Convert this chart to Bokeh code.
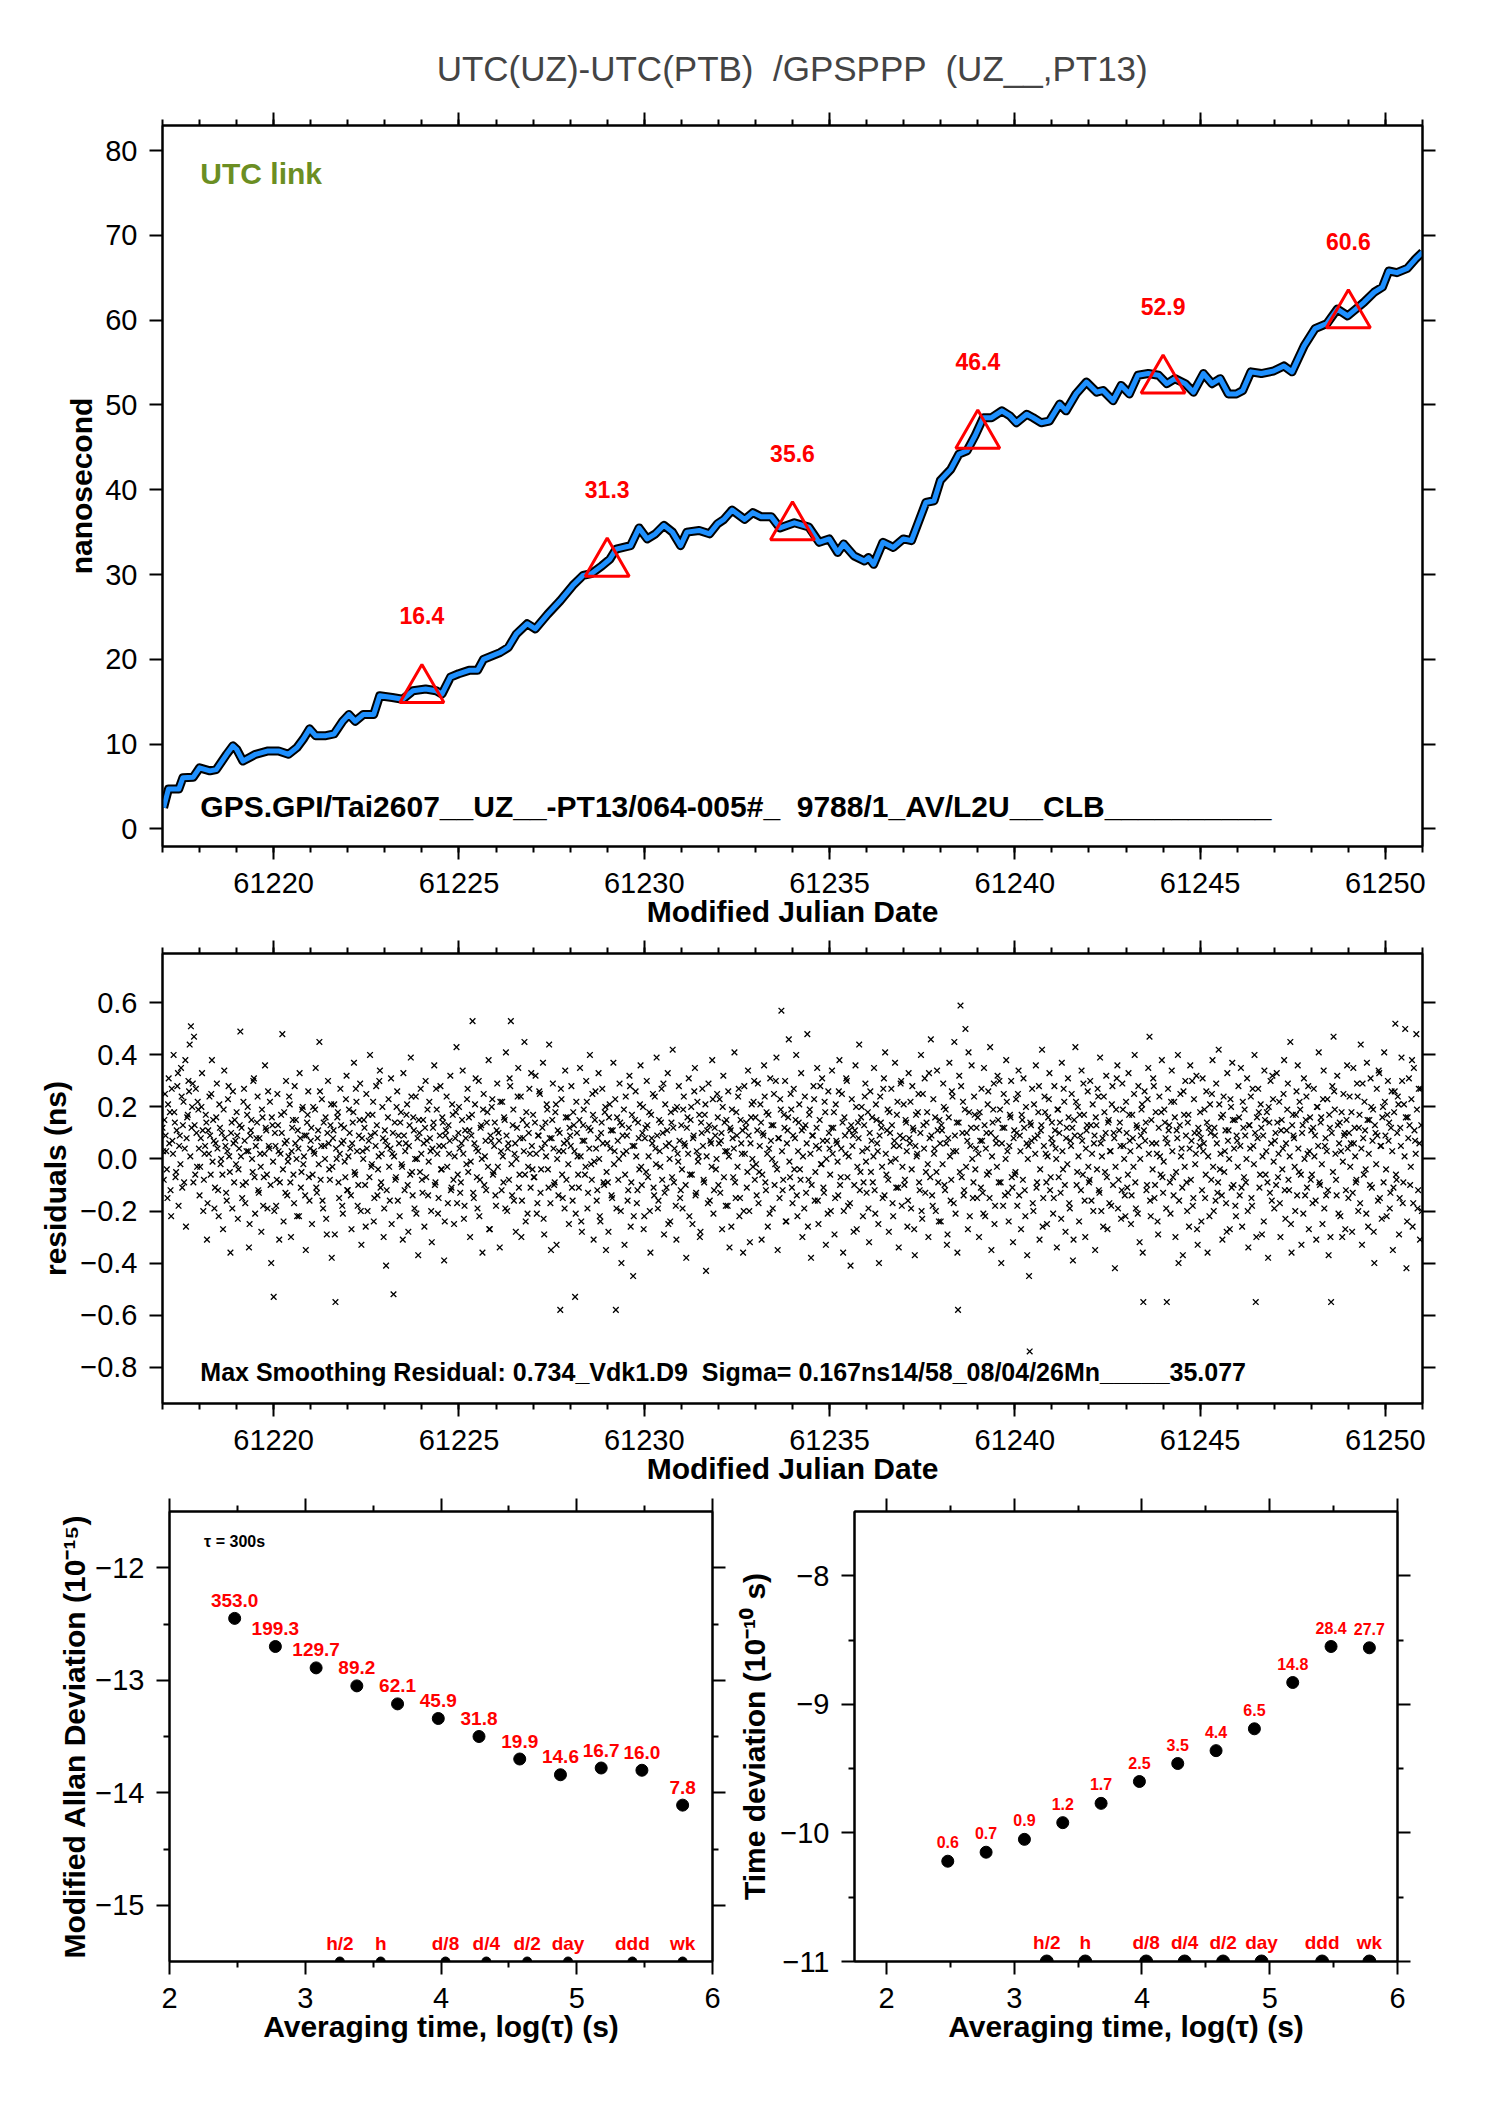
import numpy as np
from bokeh.plotting import figure
from bokeh.models import Range1d, FixedTicker, LinearAxis, Label, CustomJSTickFormatter
from bokeh.layouts import column, row
from bokeh.embed import file_html
from bokeh.resources import INLINE
from bokeh.core.properties import value

FONT = "Liberation Sans"
NB = "\u00a0"

# ---------------- data: top panel (smoothed UTC(UZ)-UTC(PTB), ns) ----------------
smooth_mjd = [61217.03, 61217.16, 61217.44, 61217.55, 61217.83, 61218.00, 61218.28, 61218.45,
              61218.73, 61218.90, 61219.00, 61219.17, 61219.51, 61219.85, 61220.13, 61220.40,
              61220.63, 61220.80, 61220.97, 61221.13, 61221.41, 61221.63, 61221.86, 61222.03,
              61222.20, 61222.42, 61222.70, 61222.86, 61223.20, 61223.48, 61223.76, 61224.10,
              61224.38, 61224.54, 61224.77, 61224.99, 61225.27, 61225.50, 61225.66, 61226.11,
              61226.33, 61226.55, 61226.84, 61227.06, 61227.39, 61227.73, 61228.07, 61228.35,
              61228.57, 61228.85, 61229.07, 61229.24, 61229.63, 61229.86, 61230.08, 61230.30,
              61230.53, 61230.76, 61230.98, 61231.15, 61231.48, 61231.76, 61231.98, 61232.15,
              61232.37, 61232.71, 61232.93, 61233.16, 61233.43, 61233.66, 61234.05, 61234.44,
              61234.72, 61234.99, 61235.22, 61235.38, 61235.66, 61235.94, 61236.05, 61236.19,
              61236.44, 61236.72, 61236.99, 61237.21, 61237.60, 61237.82, 61237.99, 61238.27,
              61238.49, 61238.71, 61238.93, 61239.15, 61239.37, 61239.65, 61239.87, 61240.04,
              61240.32, 61240.49, 61240.71, 61240.93, 61241.21, 61241.38, 61241.65, 61241.93,
              61242.21, 61242.38, 61242.65, 61242.87, 61243.09, 61243.32, 61243.60, 61243.88,
              61244.10, 61244.32, 61244.60, 61244.82, 61245.09, 61245.32, 61245.54, 61245.76,
              61245.98, 61246.15, 61246.37, 61246.65, 61246.98, 61247.26, 61247.48, 61247.81,
              61248.10, 61248.42, 61248.70, 61248.98, 61249.20, 61249.42, 61249.70, 61249.92,
              61250.09, 61250.31, 61250.59, 61250.81, 61251.00]
smooth_ns = [2.5, 4.7, 4.7, 6.05, 6.1, 7.2, 6.85, 7.0,
             8.8, 9.8, 9.4, 8.0, 8.8, 9.2, 9.2, 8.8,
             9.6, 10.6, 11.8, 11.0, 11.0, 11.2, 12.7, 13.5,
             12.7, 13.5, 13.5, 15.7, 15.5, 15.3, 16.3, 16.5,
             16.3, 15.9, 17.9, 18.3, 18.7, 18.7, 20.0, 20.8,
             21.4, 23.0, 24.2, 23.6, 25.3, 26.9, 28.7, 29.9,
             30.1, 31.0, 31.8, 33.0, 33.4, 35.5, 34.2, 34.8,
             35.8, 35.0, 33.4, 35.0, 35.2, 34.8, 36.0, 36.5,
             37.6, 36.5, 37.3, 36.8, 36.8, 35.5, 36.1, 35.6,
             33.8, 34.2, 32.6, 33.6, 32.2, 31.6, 32.0, 31.2,
             33.8, 33.2, 34.2, 34.0, 38.5, 38.7, 41.1, 42.4,
             44.2, 44.6, 46.4, 48.5, 48.5, 49.3, 48.7, 47.9,
             48.9, 48.5, 47.9, 48.1, 50.1, 49.3, 51.3, 52.7,
             51.5, 51.7, 50.5, 52.3, 51.3, 53.5, 53.7, 53.5,
             52.5, 53.1, 52.5, 51.5, 53.7, 52.5, 53.1, 51.3,
             51.3, 51.7, 53.9, 53.7, 54.0, 54.6, 53.9, 57.0,
             59.0, 59.6, 61.3, 60.5, 61.3, 62.1, 63.3, 63.9,
             65.8, 65.6, 66.1, 67.2, 68.0]
tri_mjd = [61224, 61229, 61234, 61239, 61244, 61249]
tri_ns = [16.4, 31.3, 35.6, 46.4, 52.9, 60.6]
tri_lbl = ["16.4", "31.3", "35.6", "46.4", "52.9", "60.6"]

# ---------------- data: residuals (hundredths of ns), 60 samples per day from MJD 61217 ----------------
resid_start = 61217.0
resid_per_day = 30
resid_a_cns = [
    12, -8, 25, 3, -15, 31, 18, -22, 7, 40, 14, -5, 28, -18, 9, 35, -11, 22, 4, -26, 16, 30, 44, 51, 20, -9, 13, 27, -3, 19,
    -14, 8, 33, -20, 2, 17, -31, 11, 24, -6, 38, 15, -19, 6, 29, -12, 21, -2, 10, -27, 34, 5, -16, 23, 1, -36, 14, 26, -9, 7,
    18, -23, 4, 49, 12, -10, 27, -17, 3, 20, -34, 9, 15, -5, 31, -21, 8, 24, -13, 2, -28, 16, -7, 36, 11, -19, 5, 22, -40, 13,
    -53, 10, -18, 25, 3, -9, 17, 48, -24, 6, 30, -14, 1, 21, -30, 12, -6, 28, 15, -22, 4, 33, -11, 19, -2, 9, -35, 14, 26, -16,
    7, -25, 20, 2, 35, -13, 11, 45, -8, 23, -19, 5, 16, -29, 30, -4, 13, -38, 8, 21, -55, 0, 18, -15, 27, 6, -21, 12, -7, 32,
    -12, 19, 4, -27, 14, 37, -6, 22, -18, 9, 29, -33, 3, 15, -10, 25, -20, 7, 40, -3, 17, -24, 10, 28, -14, 1, 34, -9, 20, -30,
    11, -41, 5, 23, -16, 31, 2, -52, 14, -7, 26, 9, -22, 18, -3, 33, -12, 6, 21, -28, 13, 39, -5, 16, -19, 24, 0, -37, 10, 27,
    -8, 15, -26, 30, 7, -14, 22, 3, -32, 12, 36, -9, 19, -21, 5, 28, -4, 14, -39, 9, 24, -17, 2, 32, -11, 17, -25, 8, 43, -6,
    20, -13, 6, 34, -23, 11, -2, 27, 16, -30, 9, 53, -15, 21, 4, -19, 30, -8, 13, -36, 25, 1, -12, 18, 38, -27, 7, 23, -5, 14,
    -18, 29, 10, -34, 3, 22, -9, 15, 41, -20, 6, 31, 53, -14, 19, 2, -28, 12, 35, -6, 24, -16, 8, 45, -24, 13, -3, 27, -11, 5,
    17, -7, 32, -21, 9, 26, -13, 4, 37, -29, 14, 21, -4, 44, -17, 8, 29, -10, 18, -33, 11, 3, -58, 23, -15, 6, 34, -8, 16, -25,
    9, 28, -16, 13, -53, 22, 1, -11, 35, -24, 7, 19, -6, 30, -19, 12, 40, -2, 25, -31, 15, 4, -12, 33, -22, 10, 27, -9, 18, -35,
    6, -28, 21, 11, -15, 37, 3, -58, 16, -8, 29, -20, 13, 2, -33, 24, 9, -12, 32, -26, 17, -45, 5, 26, -17, 14, -4, 36, -10, 20,
    -22, 12, 30, -7, 18, -36, 8, 25, -14, 4, 39, -19, 15, -3, 27, 10, -29, 21, -11, 33, 6, -24, 14, 42, -9, 19, -31, 2, 28, -15,
    13, -19, 24, 5, -38, 16, 31, -6, 20, -25, 9, 35, -13, 22, 1, -30, 14, 27, -8, 17, -43, 11, 29, -16, 6, 38, -21, 12, -4, 25,
    -10, 23, 7, -27, 32, 14, -18, 3, 26, -34, 11, 19, -7, 41, -15, 9, 24, -22, 15, 2, -36, 28, 12, -11, 34, -20, 6, 21, -3, 30,
    16, -14, 29, -5, 21, -31, 10, 36, -9, 18, -26, 4, 31, 13, -19, 25, -2, 39, -35, 8, 23, 57, -12, 17, 30, -24, 11, 46, -7, 19,
    -17, 27, 8, 40, -22, 14, -4, 33, -30, 12, 24, -13, 48, -8, 19, -38, 9, 28, -16, 5, 35, -25, 15, -2, 31, -11, 22, -33, 7, 26,
    4, -20, 34, 12, -29, 21, 6, -14, 38, -7, 25, -36, 16, 2, 30, -18, 11, -41, 23, 9, -10, 36, -27, 14, 44, -5, 20, -22, 13, 29,
    -13, 18, -32, 26, 7, -9, 35, -21, 15, 3, -40, 24, 12, -15, 31, 41, -6, 19, -28, 10, 27, -17, 5, 37, -11, 22, -34, 9, 30, -3,
    21, -8, 14, -26, 33, 6, -19, 28, 11, -37, 17, 2, 25, -12, 40, -23, 13, 31, -5, 18, -30, 8, 46, -14, 23, 4, -20, 34, -9, 15,
    -24, 11, 29, -10, 19, -33, 8, 37, -16, 26, 3, 45, -21, 14, -58, 32, 59, -7, 22, -12, 50, 10, -27, 18, 5, 36, -15, 24, -4, 12,
    16, -30, 7, 27, -13, 35, -22, 10, 21, -5, 43, -35, 14, 29, -18, 6, 32, -9, 19, -40, 12, 25, -14, 38, 3, -24, 17, 30, -11, 8,
    -6, 23, -18, 34, 9, -27, 15, 31, -12, 20, -37, 5, -74, 13, 27, -20, 8, 36, -9, 18, -31, 11, 42, -15, 24, 2, -25, 16, 33, -7,
    14, -21, 28, 4, -34, 19, 10, -13, 37, -4, 22, -28, 12, 31, -17, 7, 25, -39, 15, 43, -10, 20, -24, 9, 34, -6, 17, -30, 11, 26,
    -9, 30, -16, 21, 6, -35, 13, 27, -12, 39, -20, 8, 24, -5, 32, -27, 15, 3, -18, 28, 10, -42, 19, 36, -8, 14, -23, 29, 5, -14,
    22, -11, 33, 7, -25, 17, -3, 40, -19, 12, 28, -32, 9, 21, -55, 26, 14, -10, 35, 47, -22, 6, 31, -15, 18, 2, -29, 24, -6, 38,
    -13, 19, 8, -55, 27, 13, -21, 34, -7, 22, -30, 11, 40, -16, 25, 4, -37, 17, 30, -9, 14, -26, 36, 7, -18, 23, -2, 32, -33, 10,
    18, -24, 31, 6, -15, 26, -36, 12, 21, -8, 38, -20, 9, 29, -13, 42, -4, 16, -31, 24, 3, -17, 33, 11, -27, 20, 37, -10, 15, -22,
    7, 28, -14, 35, -26, 12, 19, -9, 31, -34, 13, 24, -18, 5, 40, -55, 16, 27, -11, 21, -29, 9, 34, -6, 18, -38, 14, 30, -16, 23,
    -19, 10, 33, -7, 22, -30, 15, 4, 38, -23, 11, 29, -12, 45, -36, 17, 8, -20, 26, 36, -5, 19, -33, 13, 31, -14, 24, 2, -27, 16,
    11, -17, 27, 9, -31, 20, 41, -10, 16, -25, 34, 5, -14, 23, -37, 12, -55, 28, 47, 19, -8, 32, -21, 14, 3, -30, 25, 10, -12, 36,
    -15, 24, 6, -28, 35, 12, -9, 29, -20, 17, 44, -33, 8, 22, -4, 37, -26, 15, 31, -11, 19, -40, 10, 27, -16, 33, 5, -23, 20, 41,
    9, -22, 30, 14, -13, 26, -35, 18, 52, -8, 24, -29, 12, 39, -17, 21, 50, -42, 16, 31, -10, 23, -26, 35, 7, 48, -19, 27, -31, 13,
]
resid_b_cns = [
    3, 15, 9, -4, 21, 6, -12, 27, 2, 18, -7, 11, 33, 5, -2, 24, 13, -9, 38, 8, 17, 26, 1, 12, 29, 47, -6, 10, 22, 4,
    -3, 20, 11, -8, 5, 14, -17, 2, 9, 25, -1, 7, -11, 16, 4, -22, 12, 0, -6, 19, 8, -13, 3, 28, -5, 10, -19, 6, 15, -2,
    9, -4, 13, 1, -15, 22, 7, -9, 17, 3, -25, 11, 0, 30, -7, 5, 14, -12, 8, -3, 19, -18, 2, 12, -6, 26, 4, -10, 16, -1,
    -20, 5, -8, 13, -31, 2, 10, -4, 18, -13, 7, -1, 24, -9, 3, 15, -17, 6, 0, 11, -22, 8, -5, 20, 1, -14, 9, 17, -7, 4,
    12, -6, 3, 19, -11, 8, -2, 26, 5, -16, 14, 0, -23, 10, 6, -8, 21, -3, 11, -29, 4, 16, -9, 2, 13, -18, 7, -1, 23, -12,
    1, 10, -14, 6, 18, -5, 27, 3, -10, 15, -20, 8, 0, 12, -26, 4, 17, -7, 9, -2, 22, -15, 5, 13, -4, 30, -11, 2, 8, -19,
    7, -12, 16, -3, 4, -25, 10, 1, -8, 20, -16, 6, 14, -2, -31, 9, 3, 17, -10, 5, -6, 24, -14, 11, 0, -21, 8, 15, -5, 2,
    -13, 6, 12, -7, 19, -1, 8, -20, 4, 14, -10, 27, 2, -15, 9, -4, 16, 5, -24, 11, -3, 13, 7, -12, 21, -8, 1, 18, -17, 10,
    4, -9, 15, 2, -18, 8, 23, -5, 11, -1, 17, -13, 6, 31, -7, 3, -22, 12, 0, 19, -10, 7, 14, -3, -27, 9, 20, -6, 5, -14,
    11, -3, 7, 22, -12, 1, 16, -19, 9, 4, -8, 28, -2, 13, -16, 6, 0, 24, -11, 8, -30, 15, 3, -6, 18, -21, 10, 2, 33, -4,
    -7, 14, 2, -17, 9, 25, -4, 12, -23, 6, 1, 19, -11, 8, -35, 15, 4, -9, 21, 0, -14, 10, 27, -6, 3, -19, 16, 7, -2, 12,
    5, -11, 18, 3, -21, 10, -6, 15, 1, -28, 13, 7, -3, 22, -13, 4, 11, -8, 17, -1, 26, -16, 8, 0, -24, 14, 6, -10, 20, -5,
    -9, 16, 4, -14, 11, -2, 23, -19, 7, 0, 14, -40, 9, 19, -6, 3, -16, 12, 28, -9, 5, -22, 15, 1, -12, 8, 21, -3, 10, -27,
    8, -5, 13, 1, -20, 17, 6, -11, 24, -2, 9, -16, 3, 14, -8, 29, -13, 5, 11, -25, 0, 18, -7, 12, 4, -18, 20, -1, 7, -12,
    -4, 19, 6, -10, 12, 2, -22, 15, -6, 8, 26, -14, 3, -1, 17, -28, 10, 5, -9, 21, 1, -17, 13, 7, -3, 23, -12, 9, 0, 16,
    6, -13, 10, 20, -7, 3, 15, -18, 1, 12, -26, 8, 4, -9, 18, -3, 27, -15, 6, 11, -20, 2, 14, -5, 9, -32, 16, 0, 22, -8,
    -2, 11, -17, 5, 14, -6, 9, 24, -12, 2, 17, -21, 7, 0, 13, -10, 30, -4, 8, -15, 19, 3, -8, 12, -24, 6, 16, -1, 25, -11,
    9, -4, 15, -14, 3, 21, -8, 11, 1, -19, 13, 6, -26, 17, 2, -10, 9, 23, -5, 12, -16, 4, 28, -2, 7, -13, 18, 0, -21, 10,
    -6, 12, 2, 18, -15, 7, -1, 26, -10, 4, 14, -20, 9, 31, -7, 1, -17, 13, 5, -28, 11, 20, -3, 8, -12, 16, 3, -9, 24, -1,
    4, -19, 10, -5, 16, 1, -12, 21, 6, -25, 9, 14, -3, 27, -14, 2, 11, -8, 18, -1, 13, -22, 7, 0, 17, -11, 5, 29, -18, 8,
    -10, 15, 3, -16, 8, 22, -4, 12, -27, 5, 1, 18, -9, 10, -20, 25, 4, -13, 14, -2, 33, -7, 9, -18, 2, 16, -5, 11, -24, 6,
    13, -2, 20, -12, 6, -29, 16, 1, -8, 24, -17, 9, 3, -36, 14, -5, 28, 10, -14, 19, -3, 7, 41, -22, 12, 0, -9, 17, 4, -15,
    2, 18, -11, 7, -21, 13, 4, -6, 26, -15, 10, 1, 19, -25, 8, -3, 15, 30, -9, 6, -18, 12, 0, 22, -13, 5, 16, -7, -32, 11,
    -5, 10, 25, -14, 3, 17, -8, 12, -22, 6, 0, -45, 14, 7, -17, 21, 2, -11, 9, 28, -4, 13, -26, 5, 18, -9, 1, 23, -12, 8,
    6, -15, 11, 0, 19, -7, 14, -23, 3, 27, -10, 8, -2, 16, -19, 5, 12, -31, 9, 22, -5, 1, 17, -12, 7, 29, -16, 4, 13, -3,
    -8, 13, 2, -20, 9, 16, -4, 24, -13, 6, 1, -26, 18, 10, -7, 14, -17, 3, 21, -10, 8, -3, 31, -19, 11, 5, -12, 19, 0, -22,
    10, -6, 17, 3, -14, 8, 25, -9, 13, -21, 5, 0, 19, -36, 11, 7, -12, 23, 2, -16, 15, -4, 28, -10, 6, -24, 12, 1, 18, -7,
    -1, 14, -19, 6, 11, -9, 22, 3, -14, 16, -5, 8, -40, 13, 1, -11, 26, -3, 9, -20, 17, 4, -8, 30, -15, 10, 2, -27, 12, 5,
    8, -12, 3, 19, -6, 14, 1, -22, 10, 25, -3, 12, -16, 6, -9, 21, 2, -14, 17, -5, 11, -28, 7, 0, 23, -11, 15, 4, -18, 9,
    -3, 16, 5, -11, 22, -7, 9, 0, -20, 13, 4, -15, 27, -2, 10, -30, 8, 18, -6, 12, 1, -24, 15, 3, -9, 20, -13, 6, 32, -1,
    7, -10, 14, 2, -17, 11, -4, 25, -12, 6, 19, -8, 1, -25, 13, 9, -3, 17, -14, 4, 22, -6, 10, -21, 0, 15, -11, 28, 3, -8,
    -6, 12, 1, -16, 20, 5, -9, 14, -2, 23, -19, 8, 3, -12, 17, -30, 10, -5, 26, 2, -14, 13, 6, -22, 18, -1, 9, -27, 15, 4,
    10, -3, 18, -13, 6, 1, -8, 24, 12, -17, 4, 29, -6, 11, -21, 15, 2, -10, 20, 7, -28, 13, -2, 9, 34, -15, 5, 16, -9, 22,
    -4, 17, 7, -19, 12, 3, -11, 26, -6, 10, 21, -15, 5, 30, -9, 1, 16, -24, 8, 13, -3, 38, -17, 11, 2, 19, -12, 6, 27, -20,
]

# ---------------- data: stability panels ----------------
tau_log = [2.48, 2.78, 3.08, 3.38, 3.68, 3.98, 4.28, 4.58, 4.88, 5.18, 5.48, 5.78]
mdev_log = [-12.45, -12.70, -12.89, -13.05, -13.21, -13.34, -13.50, -13.70, -13.84, -13.78, -13.80, -14.11]
mdev_lbl = ["353.0", "199.3", "129.7", "89.2", "62.1", "45.9", "31.8", "19.9", "14.6", "16.7", "16.0", "7.8"]
tdev_log = [-10.22, -10.15, -10.05, -9.92, -9.77, -9.60, -9.46, -9.36, -9.19, -8.83, -8.55, -8.56]
tdev_lbl = ["0.6", "0.7", "0.9", "1.2", "1.7", "2.5", "3.5", "4.4", "6.5", "14.8", "28.4", "27.7"]
mark_log = [3.255, 3.556, 4.033, 4.334, 4.635, 4.936, 5.41, 5.78]
mark_lbl = ["h/2", "h", "d/8", "d/4", "d/2", "day", "ddd", "wk"]

mjd_ticks = [61220, 61225, 61230, 61235, 61240, 61245, 61250]
mjd_minor = list(range(61217, 61252))
ns_ticks = [0, 10, 20, 30, 40, 50, 60, 70, 80]
res_ticks = [-0.8, -0.6, -0.4, -0.2, 0.0, 0.2, 0.4, 0.6]
tau_ticks = [2, 3, 4, 5, 6]
tau_minor = [2.5, 3.5, 4.5, 5.5]
mdev_ticks = [-15, -14, -13, -12]
mdev_minor = [-14.5, -13.5, -12.5]
tdev_ticks = [-11, -10, -9, -8]
tdev_minor = [-10.5, -9.5, -8.5]

resid_ns = np.array(resid_a_cns + resid_b_cns) / 100.0
resid_mjd = np.concatenate([resid_start + np.arange(len(resid_a_cns)) / resid_per_day,
                            resid_start + (np.arange(len(resid_b_cns)) + 0.5) / resid_per_day])


def fmt(dec):
    return CustomJSTickFormatter(
        code="var s = Math.abs(tick).toFixed(%d); return (tick < -1e-9 ? '\\u2212' : '') + s;" % dec)


def axis_style(ax, labels=True):
    ax.axis_line_color = "black"
    ax.axis_line_width = 2
    ax.major_tick_out = 13
    ax.major_tick_in = 0
    ax.minor_tick_out = 6
    ax.minor_tick_in = 0
    ax.major_tick_line_width = 2
    ax.minor_tick_line_width = 2
    ax.major_tick_line_color = "black"
    ax.minor_tick_line_color = "black"
    if labels:
        ax.major_label_text_font = FONT
        ax.major_label_text_font_size = "29px"
        ax.major_label_text_color = "black"
        ax.axis_label_text_font = FONT
        ax.axis_label_text_font_size = "30px"
        ax.axis_label_text_font_style = "bold"
        ax.axis_label_text_color = "black"
    else:
        ax.major_label_text_font_size = "1px"
        ax.major_label_text_color = None
        ax.major_label_standoff = 0


def make_fig(width, height, xr, yr, borders, xt, xm, yt, ym, xdec, ydec, xlabel, ylabel, ylab_stand):
    p = figure(width=width, height=height, x_range=Range1d(*xr), y_range=Range1d(*yr),
               output_backend="svg", toolbar_location=None,
               min_border_left=borders[0], min_border_right=borders[1],
               min_border_top=borders[2], min_border_bottom=borders[3])
    p.xgrid.visible = False
    p.ygrid.visible = False
    p.outline_line_color = "black"
    p.outline_line_width = 2
    p.background_fill_color = "white"
    p.border_fill_color = "white"
    xa = p.xaxis[0]
    ya = p.yaxis[0]
    xa.ticker = FixedTicker(ticks=xt, minor_ticks=xm)
    ya.ticker = FixedTicker(ticks=yt, minor_ticks=ym)
    xa.formatter = fmt(xdec)
    ya.formatter = fmt(ydec)
    axis_style(xa)
    axis_style(ya)
    xa.axis_label = xlabel
    ya.axis_label = ylabel
    xa.major_label_standoff = 13
    xa.axis_label_standoff = -1
    ya.major_label_standoff = 12
    ya.axis_label_standoff = ylab_stand
    top = LinearAxis(ticker=FixedTicker(ticks=xt, minor_ticks=xm))
    axis_style(top, False)
    p.add_layout(top, "above")
    rt = LinearAxis(ticker=FixedTicker(ticks=yt, minor_ticks=ym))
    axis_style(rt, False)
    p.add_layout(rt, "right")
    return p


# ---------------- top panel ----------------
p1 = make_fig(1480, 940, (61217, 61251), (-2.07, 82.95), (162, 58, 125, 94),
              mjd_ticks, mjd_minor, ns_ticks, [], 0, 0,
              "Modified Julian Date", "nanosecond", 4)
p1.title.text = "UTC(UZ)-UTC(PTB) " + NB + "/GPSPPP " + NB + "(UZ__,PT13)"
p1.title.align = "center"
p1.title.text_font = FONT
p1.title.text_font_size = "35px"
p1.title.text_font_style = "normal"
p1.title.standoff = 49
p1.line(smooth_mjd, smooth_ns, line_color="black", line_width=9, line_join="round")
p1.line(smooth_mjd, smooth_ns, line_color="#1E90FF", line_width=5, line_join="round")
p1.scatter(tri_mjd, tri_ns, marker="triangle", size=44, fill_color=None, line_color="red", line_width=3)
p1.text(x=tri_mjd, y=tri_ns, text=tri_lbl, y_offset=-74, text_align="center", text_baseline="middle",
        text_color="red", text_font=value(FONT), text_font_style="bold", text_font_size=value("23px"))
p1.add_layout(Label(x=61218.02, y=77.3, text="UTC link", text_color="#6B8E23", text_font=FONT,
                    text_font_style="bold", text_font_size="30px", text_baseline="middle"))
p1.add_layout(Label(x=61218.02, y=2.7,
                    text="GPS.GPI/Tai2607__UZ__-PT13/064-005#_ " + NB + "9788/1_AV/L2U__CLB__________",
                    text_color="black", text_font=FONT, text_font_style="bold", text_font_size="30px",
                    text_baseline="middle"))

# ---------------- residual panel ----------------
p2 = make_fig(1480, 557, (61217, 61251), (-0.94, 0.79), (162, 58, 13, 94),
              mjd_ticks, mjd_minor, res_ticks, [], 0, 1,
              "Modified Julian Date", "residuals (ns)", 5)
p2.scatter(resid_mjd, resid_ns, marker="x", size=8, line_color="black", line_width=1.3)
p2.add_layout(Label(x=61218.02, y=-0.82,
                    text="Max Smoothing Residual: 0.734_Vdk1.D9 " + NB + "Sigma= 0.167ns14/58_08/04/26Mn_____35.077",
                    text_color="black", text_font=FONT, text_font_style="bold", text_font_size="25px",
                    text_baseline="middle"))

# ---------------- MDEV panel ----------------
mdev_ymin = -15.5
p3 = make_fig(732, 564, (2, 6), (mdev_ymin, -11.5), (169, 20, 14, 100),
              tau_ticks, tau_minor, mdev_ticks, mdev_minor, 0, 0,
              "Averaging time, log(\u03c4) (s)", "Modified Allan Deviation (10\u207b\u00b9\u2075)", 1)
p3.scatter(tau_log, mdev_log, size=12, color="black")
p3.text(x=tau_log, y=mdev_log, text=mdev_lbl, y_offset=-18, text_align="center", text_baseline="middle",
        text_color="red", text_font=value(FONT), text_font_style="bold", text_font_size=value("19px"))
p3.scatter(mark_log, [mdev_ymin] * len(mark_log), size=9, color="black")
p3.text(x=mark_log, y=[mdev_ymin] * len(mark_log), text=mark_lbl, y_offset=-18, text_align="center",
        text_baseline="middle", text_color="red", text_font=value(FONT), text_font_style="bold",
        text_font_size=value("19px"))
p3.add_layout(Label(x=2.255, y=-11.77, text="\u03c4 = 300s", text_color="black", text_font=FONT,
                    text_font_style="bold", text_font_size="16px", text_baseline="middle"))

# ---------------- TDEV panel ----------------
tdev_ymin = -11.0
p4 = make_fig(748, 564, (1.75, 6.0), (tdev_ymin, -7.5), (122, 83, 14, 100),
              tau_ticks, tau_minor, tdev_ticks, tdev_minor, 0, 0,
              "Averaging time, log(\u03c4) (s)", "Time deviation (10\u207b\u00b9\u2070 s)", 6)
p4.scatter(tau_log, tdev_log, size=12, color="black")
p4.text(x=tau_log, y=tdev_log, text=tdev_lbl, y_offset=-19, text_align="center", text_baseline="middle",
        text_color="red", text_font=value(FONT), text_font_style="bold", text_font_size=value("16px"))
p4.scatter(mark_log, [tdev_ymin] * len(mark_log), size=13, color="black")
p4.text(x=mark_log, y=[tdev_ymin] * len(mark_log), text=mark_lbl, y_offset=-19, text_align="center",
        text_baseline="middle", text_color="red", text_font=value(FONT), text_font_style="bold",
        text_font_size=value("19px"))

layout = column(p1, p2, row(p3, p4))
open("out.html", "w").write(file_html(layout, INLINE, "UTC(UZ)-UTC(PTB)"))
